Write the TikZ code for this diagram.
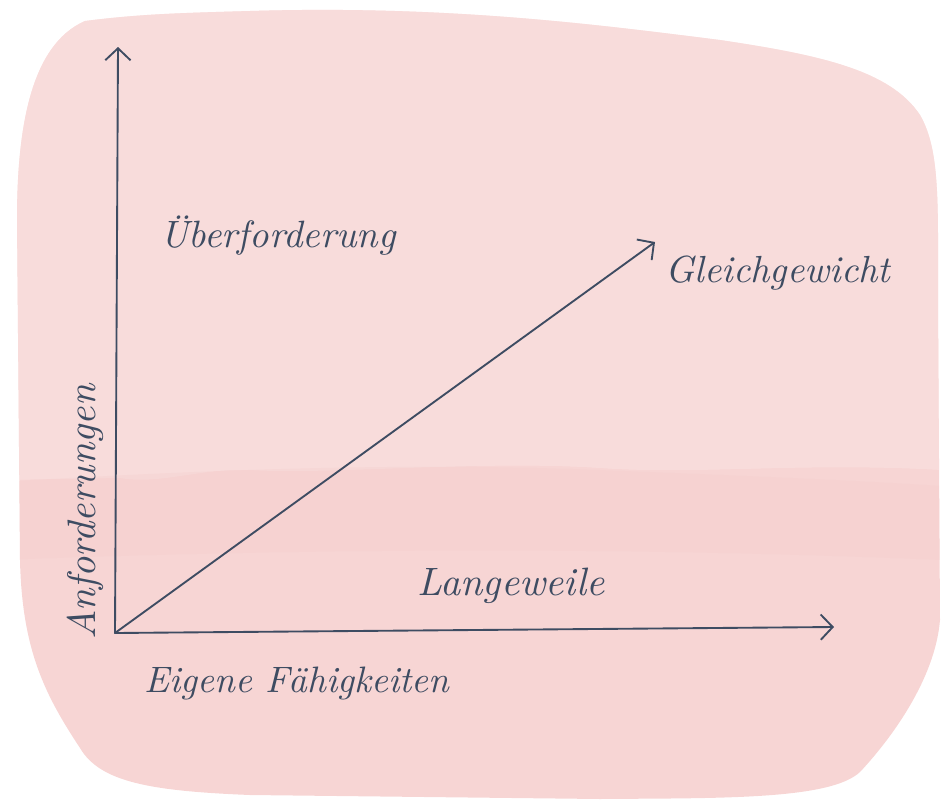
\documentclass[tikz,border=0pt]{standalone}
\usepackage{fontspec}
\usepackage{graphicx}
\usetikzlibrary{arrows.meta}

\definecolor{ink}{HTML}{3E4C62}
\definecolor{wash}{HTML}{F7D5D4}
\definecolor{washlight}{HTML}{FAE2E1}
\definecolor{washdeep}{HTML}{F5CECD}

\tikzset{
  axisline/.style={draw=ink, line width=1.6pt, line cap=round,
    -{Straight Barb[length=3.6mm, width=7.6mm, line width=1.6pt]}},
  lbl/.style={text=ink, inner sep=0pt},
}
% fit a label to a given width
\newcommand{\fitlbl}[2]{\resizebox{#1}{!}{\itshape #2}}

\begin{document}
\begin{tikzpicture}[x=0.03cm, y=-0.03cm]
  \useasboundingbox (0,0) rectangle (942,802);

  % watercolour wash behind the chart
  \def\washpath{(85,21)
    .. controls (140,14) and (180,13) .. (250,11)
    .. controls (450,5) and (600,25) .. (720,40)
    .. controls (820,55) and (890,70) .. (920,115)
    .. controls (940,150) and (938,200) .. (938,300)
    -- (940,620)
    .. controls (935,680) and (890,740) .. (860,772)
    .. controls (830,800) and (720,798) .. (600,799)
    -- (250,795)
    .. controls (150,791) and (100,782) .. (80,748)
    .. controls (45,695) and (22,650) .. (20,560)
    -- (17,220)
    .. controls (17,130) and (30,45) .. (85,21) -- cycle}
  \fill[wash] \washpath;
  \begin{scope}
    \clip \washpath;
    % paler upper part of the wash
    \fill[washlight, opacity=0.6]
      (0,0) -- (942,0) -- (942,470)
      .. controls (800,462) and (700,475) .. (600,468)
      .. controls (480,460) and (330,475) .. (250,470)
      .. controls (200,468) and (160,485) .. (120,478)
      -- (0,480) -- cycle;
    % deeper band across the lower part
    \fill[washdeep, opacity=0.35]
      (0,482) .. controls (200,470) and (400,462) .. (600,470)
      .. controls (750,476) and (850,480) .. (942,486)
      -- (942,560) .. controls (700,550) and (400,545) .. (0,560) -- cycle;
  \end{scope}

  % axes and diagonal
  \coordinate (O) at (115,633);
  \coordinate (ytop) at (118,47);
  \coordinate (xend) at (834,627);
  \coordinate (dend) at (655,242);
  \draw[axisline] (O) -- (ytop);
  \draw[axisline] (O) -- (xend);
  \draw[axisline] (O) -- (dend);

  % labels
  \node[lbl] (over) at (278,236) {\fitlbl{7.05cm}{Überforderung}};
  \node[lbl] (gleich) at (778,273) {\fitlbl{6.75cm}{Gleichgewicht}};
  \node[lbl] (lang) at (511,586) {\fitlbl{5.6cm}{Langeweile}};
  \node[lbl] (faehig) at (297,683) {\fitlbl{9.15cm}{Eigene Fähigkeiten}};
  \node[lbl, rotate=90] (anf) at (85,512) {\fitlbl{7.65cm}{Anforderungen}};
\end{tikzpicture}
\end{document}
